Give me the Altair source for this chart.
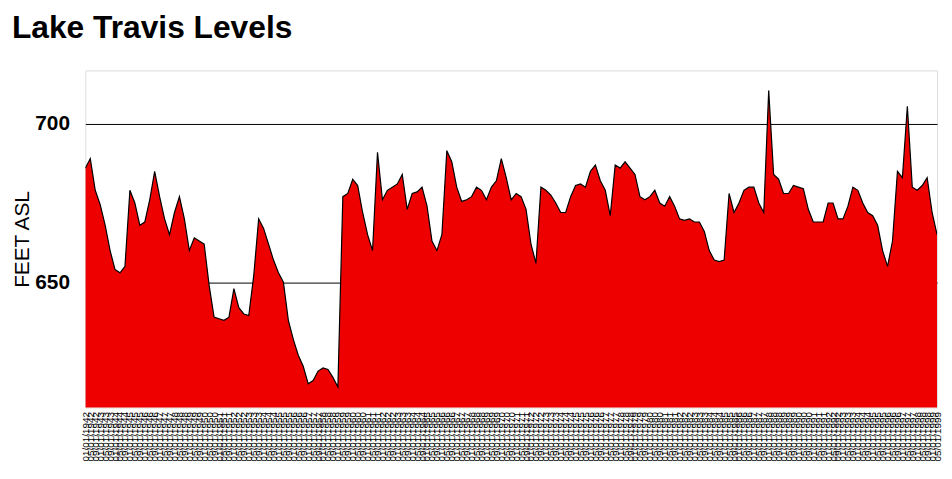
import altair as alt
import pandas as pd

# Lake level (feet above sea level) left to right
levels = [
    686, 689, 679, 674.5, 668, 660, 654, 653, 655, 679,
    675, 668, 669, 676, 685, 677, 670, 665, 672, 677,
    670, 660, 664, 663, 662, 649, 639, 638.5, 638, 639,
    648, 642, 640, 639.5, 652, 670, 667, 662, 657, 653,
    650, 638, 632, 627, 623.5, 618, 619, 622, 623, 622.5,
    620, 617, 677, 678, 682.5, 680.5, 672, 665, 660, 691,
    676, 679, 680, 681, 684, 673, 678, 678.5, 680, 674,
    663, 660, 665, 691.5, 688, 680, 675.5, 676, 677, 680,
    679, 676, 680, 682, 689, 683, 676, 678, 677, 673,
    662, 656, 680, 679, 677.5, 675, 672, 672, 677, 680.5,
    681, 680, 685, 687, 682, 679, 671, 687, 686, 688,
    686, 684, 677, 676, 677, 679, 675, 674, 677, 674,
    670, 669.5, 670, 669, 669, 666, 660, 657, 656.5, 657,
    678, 672, 675, 679, 680, 680, 675, 672, 710.5, 684,
    682.5, 678, 678, 680.5, 680, 679.5, 673, 669, 669, 669,
    675, 675, 670, 670, 674, 680, 679, 675, 672, 671,
    668, 660, 655, 663, 685, 683, 705.5, 680, 679, 680.5,
    683, 672, 665,
]

# Dense date labels along the bottom (illegible in the reference; estimated)
dates = [d.strftime("%m/%d/%Y")
         for d in pd.date_range("1942-01-01", periods=len(levels), freq="4MS")]

y_ticks = [650, 700]

df = pd.DataFrame({"date": dates, "level": levels})

FONT = "Liberation Sans"

x = alt.X(
    "date:O", sort=None, title=None,
    scale=alt.Scale(padding=0),
    axis=alt.Axis(labelAngle=270, labelFontSize=10, labelOverlap=False,
                  ticks=False, domain=False, labelPadding=4,
                  labelColor="black", labelFont=FONT),
)
y = alt.Y(
    "level:Q", title="FEET ASL",
    scale=alt.Scale(domain=[610.5, 716.8], nice=False, zero=False),
    axis=alt.Axis(values=y_ticks, grid=True, gridColor="black", gridWidth=1,
                  gridOpacity=1, ticks=False, domain=False,
                  labelFontSize=21, labelFontWeight="bold", labelPadding=16,
                  labelColor="black", labelFont=FONT,
                  titleFontSize=21, titleFontWeight="normal", titlePadding=2,
                  titleColor="black", titleFont=FONT),
)

chart = (
    alt.Chart(df)
    .mark_area(color="#ee0000", opacity=1,
               line={"color": "black", "strokeWidth": 1.2}, clip=True)
    .encode(x=x, y=y)
    .properties(
        width=859, height=340,
        title=alt.TitleParams("Lake Travis Levels", anchor="start", frame="group",
                              dx=-74, offset=26, fontSize=32, fontWeight="bold",
                              font=FONT, color="black"),
        autosize=alt.AutoSizeParams(type="none"),
        padding={"left": 78, "top": 61, "right": 7, "bottom": 57},
    )
    .configure_view(stroke="black", strokeWidth=1)
    .configure(background="white")
)

chart.save("out.html", embed_options={"renderer": "svg", "actions": False})
